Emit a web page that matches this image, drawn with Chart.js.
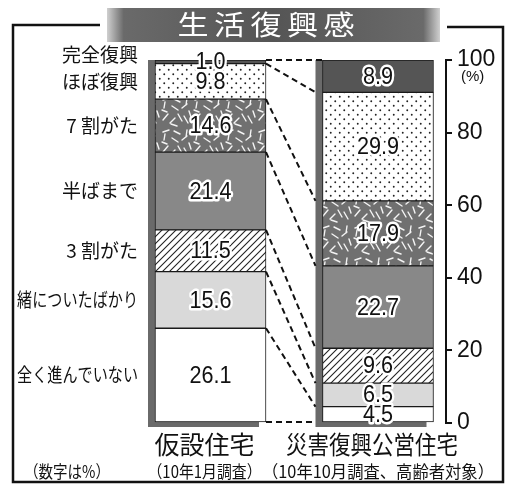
<!DOCTYPE html>
<html><head><meta charset="utf-8">
<script src="https://cdn.jsdelivr.net/npm/chart.js@4.4.1/dist/chart.umd.min.js"></script>
<style>html,body{margin:0;padding:0;background:#fff}</style>
</head><body>
<canvas id="c" width="506" height="487" style="width:506px;height:487px;display:block"></canvas>
<script>
// ---- data ----
const title = '生活復興感';
const categories = ['全く進んでいない','緒についたばかり','3 割がた','半ばまで','7 割がた','ほぼ復興','完全復興'];
const groups = ['仮設住宅','災害復興公営住宅'];
const groupNotes = ['（10年1月調査）','（10年10月調査、高齢者対象）'];
const kasetsu = [26.1, 15.6, 11.5, 21.4, 14.6, 9.8, 1.0];
const koei    = [4.5, 6.5, 9.6, 22.7, 17.9, 29.9, 8.9];
const yTicks = [0, 20, 40, 60, 80, 100];
const unitNote = '（数字は%）';
const axisUnit = '(%)';

// ---- patterns (style only) ----
function tile(w, h, draw) {
  const c = document.createElement('canvas'); c.width = w; c.height = h;
  const g = c.getContext('2d'); draw(g, w, h);
  return g.createPattern(c, 'repeat');
}
const dotFill = tile(9, 9, (g) => {
  g.fillStyle = '#fff'; g.fillRect(0, 0, 9, 9);
  g.fillStyle = '#222';
  g.beginPath(); g.arc(2.25, 2.25, 0.95, 0, Math.PI * 2); g.fill();
  g.beginPath(); g.arc(6.75, 6.75, 0.95, 0, Math.PI * 2); g.fill();
});
const hatchFill = tile(7, 7, (g) => {
  g.fillStyle = '#fff'; g.fillRect(0, 0, 7, 7);
  g.strokeStyle = '#222'; g.lineWidth = 1.1;
  g.beginPath();
  g.moveTo(-1, 8); g.lineTo(8, -1);
  g.moveTo(-1, 1); g.lineTo(1, -1);
  g.moveTo(6, 8); g.lineTo(8, 6);
  g.stroke();
});
const strokeFill = tile(32, 32, (g) => {
  g.fillStyle = '#707070'; g.fillRect(0, 0, 32, 32);
  g.strokeStyle = '#f4f4f4'; g.lineWidth = 1.4; g.lineCap = 'round';
  const s = [[3,4,9,2],[5,6,4,12],[12,10,18,14],[14,3,20,6],[22,12,27,8],[24,20,28,27],
             [8,18,3,24],[15,22,10,27],[18,18,22,25],[27,2,26,9],[2,14,7,16],[11,28,17,30],[29,15,31,21]];
  g.beginPath();
  s.forEach(a => { g.moveTo(a[0], a[1]); g.lineTo(a[2], a[3]); });
  g.stroke();
});
const fills = ['#ffffff', '#d9d9d9', hatchFill, '#888888', strokeFill, dotFill, '#555555'];

const JP = '"Noto Sans CJK JP", "Noto Sans", sans-serif';
const NUM = '"Liberation Sans", Arial, sans-serif';
const BAR_W = 111, SHADOW_X = 7, SHADOW_Y = 4;

function sqText(ctx, txt, x, y, sx, halo) {
  ctx.save(); ctx.translate(x, y); ctx.scale(sx, 1);
  if (halo) { ctx.lineWidth = 5; ctx.strokeStyle = '#fff'; ctx.lineJoin = 'round'; ctx.strokeText(txt, 0, 0); }
  ctx.fillText(txt, 0, 0); ctx.restore();
}

const decor = {
  id: 'decor',
  beforeDraw(chart) {
    const ctx = chart.ctx;
    ctx.save();
    ctx.fillStyle = '#fff'; ctx.fillRect(0, 0, chart.width, chart.height);
    // frame
    ctx.strokeStyle = '#111'; ctx.lineWidth = 2.5;
    ctx.beginPath();
    ctx.moveTo(100, 25); ctx.lineTo(13, 25); ctx.lineTo(13, 482); ctx.lineTo(503, 482); ctx.lineTo(503, 27);
    ctx.lineTo(447, 27);
    ctx.stroke();
    // banner
    const gr = ctx.createLinearGradient(107, 0, 440, 0);
    gr.addColorStop(0, '#d0d0d0'); gr.addColorStop(0.05, '#6a6a6a'); gr.addColorStop(0.5, '#555');
    gr.addColorStop(0.95, '#6a6a6a'); gr.addColorStop(1, '#d0d0d0');
    ctx.fillStyle = gr; ctx.fillRect(107, 8, 333, 34);
    ctx.font = '27px ' + JP; ctx.textAlign = 'center'; ctx.textBaseline = 'middle';
    [...title].forEach((ch, i) => {
      const x = 193 + i * 36.5;
      ctx.save(); ctx.translate(x, 25); ctx.scale(1.15, 1);
      ctx.fillStyle = '#fff'; ctx.fillText(ch, 0, 0); ctx.restore();
    });
    ctx.restore();
  },
  beforeDatasetsDraw(chart) {
    const ctx = chart.ctx, ys = chart.scales.y;
    ctx.save(); ctx.fillStyle = '#6a6a6a';
    chart.getDatasetMeta(0).data.forEach(b => {
      const top = ys.getPixelForValue(100), bot = ys.getPixelForValue(0);
      ctx.fillRect(b.x - BAR_W / 2 - SHADOW_X, top, BAR_W, bot - top + SHADOW_Y);
    });
    ctx.restore();
  },
  afterDatasetsDraw(chart) {
    const ctx = chart.ctx;
    const metas = chart.data.datasets.map((d, i) => chart.getDatasetMeta(i));
    ctx.save();
    // dashed connectors
    ctx.strokeStyle = '#111'; ctx.lineWidth = 2; ctx.setLineDash([6, 4]);
    const L0 = metas[0].data[0], R0 = metas[0].data[1];
    const lx = L0.x + BAR_W / 2, rx = R0.x - BAR_W / 2 - SHADOW_X;
    for (let k = 0; k <= metas.length; k++) {
      const ly = k === 0 ? metas[0].data[0].base : metas[k - 1].data[0].y;
      const ry = k === 0 ? metas[0].data[1].base : metas[k - 1].data[1].y;
      ctx.beginPath(); ctx.moveTo(lx, ly); ctx.lineTo(k === metas.length ? rx + SHADOW_X : rx, ry); ctx.stroke();
    }
    ctx.setLineDash([]);
    // value labels
    ctx.font = '24px ' + NUM; ctx.textAlign = 'center'; ctx.textBaseline = 'middle'; ctx.fillStyle = '#111';
    chart.data.datasets.forEach((ds, di) => {
      metas[di].data.forEach((b, j) => {
        const cy = (b.y + b.base) / 2 + 1;
        sqText(ctx, ds.data[j].y.toFixed(1), b.x, cy, 0.9, true);
      });
    });
    // category labels (left)
    ctx.font = '19px ' + JP; ctx.textAlign = 'right'; ctx.fillStyle = '#111';
    let prev = Infinity;
    categories.forEach((c, i) => {
      const b = metas[i].data[0];
      let y = (b.y + b.base) / 2;
      if (y > prev - 27) y = prev - 27;
      prev = y;
      ctx.fillText(c, 138, y, 121);
    });
    // group labels (bottom)
    ctx.textAlign = 'center';
    metas[0].data.forEach((b, j) => {
      ctx.font = '25px ' + JP;
      ctx.fillText(groups[j], b.x - 6, 444, j === 0 ? 112 : 172);
      ctx.font = '17px ' + JP;
      ctx.fillText(groupNotes[j], j === 0 ? b.x - 6 : b.x, 472, j === 0 ? 114 : 232);
    });
    ctx.font = '17px ' + JP;
    ctx.fillText(unitNote, 67, 472, 86);
    // axis unit
    ctx.textAlign = 'left'; ctx.font = '15px ' + NUM;
    ctx.fillText(axisUnit, 461, 77);
    ctx.restore();
  }
};

const datasets = categories.map((c, i) => ({
  label: c,
  data: [{ x: 0, y: kasetsu[i] }, { x: 1, y: koei[i] }],
  backgroundColor: fills[i],
  borderColor: '#1a1a1a',
  borderWidth: 1,
  borderSkipped: false,
  barThickness: BAR_W
}));

new Chart(document.getElementById('c'), {
  type: 'bar',
  data: { datasets },
  plugins: [decor],
  options: {
    responsive: false,
    animation: false,
    devicePixelRatio: 1,
    layout: { padding: { left: 126.75, top: 60, bottom: 64, right: 0 } },
    plugins: { legend: { display: false }, tooltip: { enabled: false } },
    scales: {
      x: { type: 'linear', min: -0.5, max: 1.406, offset: false, stacked: true, display: false },
      y: {
        type: 'linear', stacked: true, min: 0, max: 100, position: 'right',
        afterFit(s) { s.width = 60; },
        afterBuildTicks(s) { s.ticks = yTicks.map(v => ({ value: v })); },
        border: { display: true, color: '#111', width: 2 },
        grid: { drawOnChartArea: false, drawTicks: true, tickLength: 6, color: '#111', lineWidth: 2 },
        ticks: { padding: 5, color: '#111', font: { family: 'Liberation Sans', size: 23 } }
      }
    }
  }
});
</script>
</body></html>
